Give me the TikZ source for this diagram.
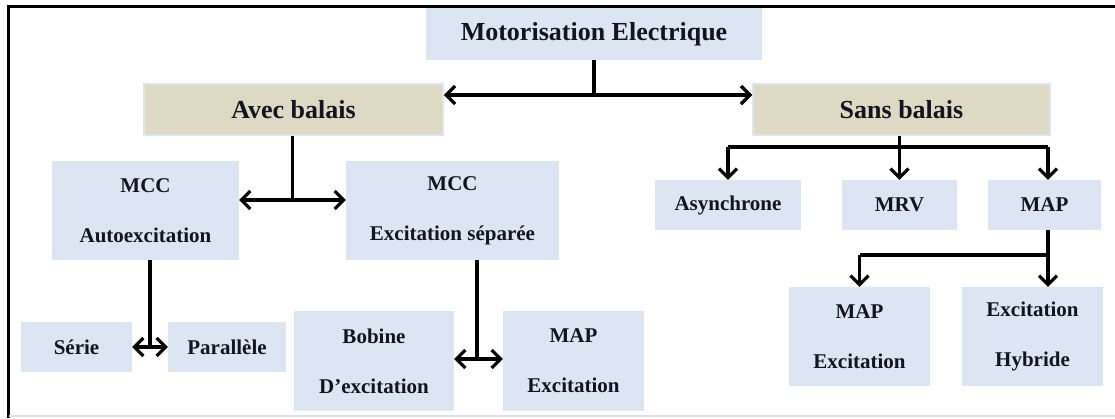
\documentclass[tikz,border=0pt]{standalone}
\usepackage{fontspec}
\setmainfont{Liberation Serif}
\usetikzlibrary{arrows.meta,calc}
\definecolor{boxblue}{HTML}{DCE6F2}
\definecolor{boxtan}{HTML}{DDD9C3}
\definecolor{inkdark}{HTML}{141420}
\begin{document}
\begin{tikzpicture}[x=1pt,y=-1pt,
  box/.style={fill=boxblue, inner sep=0pt, align=center, text=inkdark,
    font=\bfseries\fontsize{21}{50}\selectfont},
  cat/.style={fill=boxtan, draw=boxblue, line width=1.5pt, inner sep=0pt,
    text=inkdark, font=\bfseries\fontsize{26}{30}\selectfont},
  conn/.style={line width=3.2pt, draw=black},
  arr/.style={conn, -{Straight Barb[length=9pt,width=18pt]}},
  biarr/.style={conn, {Straight Barb[length=9pt,width=18pt]}-{Straight Barb[length=9pt,width=18pt]}},
]
\useasboundingbox (0,0) rectangle (1115,418);

% frame
\draw[line width=3pt] (1115,6) -- (8,6) -- (8,418);
\draw[black!12, line width=1.5pt] (9,416) -- (1115,416);

% root
\node[box, minimum width=336pt, minimum height=52pt,
  font=\bfseries\fontsize{26}{30}\selectfont] (root) at (594,34) {Motorisation Electrique};

% two families
\node[cat, minimum width=299pt, minimum height=51pt] (avec) at (293.5,109.5) {Avec balais};
\node[cat, minimum width=297pt, minimum height=51pt] (sans) at (901.5,109.5) {Sans balais};

% brushed machines
\node[box, minimum width=187pt, minimum height=99pt] (mcca) at (145.5,210.5) {MCC\\Autoexcitation};
\node[box, minimum width=213pt, minimum height=99pt] (mccs) at (452.5,210.5) {MCC\\Excitation séparée};
\node[box, minimum width=111pt, minimum height=50pt] (serie) at (76.5,347) {Série};
\node[box, minimum width=118pt, minimum height=50pt] (para) at (227,347) {Parallèle};
\node[box, minimum width=160pt, minimum height=100pt] (bob) at (374,361) {Bobine\\D’excitation};
\node[box, minimum width=141pt, minimum height=100pt] (mapl) at (573.5,361) {MAP\\Excitation};

% brushless machines
\node[box, minimum width=146pt, minimum height=50pt] (asy) at (728,205) {Asynchrone};
\node[box, minimum width=115pt, minimum height=50pt] (mrv) at (899.5,205) {MRV};
\node[box, minimum width=113pt, minimum height=50pt] (map) at (1044.5,205) {MAP};
\node[box, minimum width=141pt, minimum height=99pt] (mapr) at (859.5,336.5) {MAP\\Excitation};
\node[box, minimum width=141pt, minimum height=99pt] (hyb) at (1032.5,336.5) {Excitation\\Hybride};

% junction points
\coordinate (j0) at (594,95);
\coordinate (j1) at (292.5,200);
\coordinate (j2) at (150,347);
\coordinate (j3) at (477,359);
\coordinate (j4) at (899.5,147);
\coordinate (j5) at (1048,255);

% root -> families
\draw[conn] (root.south) -- (j0);
\draw[arr] (j0) -- (j0 -| avec.east);
\draw[arr] (j0) -- (j0 -| sans.west);

% avec balais -> MCC
\draw[conn] (j1 |- avec.south) -- (j1);
\draw[arr] (j1) -- (j1 -| mcca.east);
\draw[arr] (j1) -- (j1 -| mccs.west);

% autoexcitation -> serie / parallele
\draw[conn] (j2 |- mcca.south) -- (j2);
\draw[biarr] (j2 -| serie.east) -- (j2 -| para.west);

% excitation separee -> bobine / MAP
\draw[conn] (j3 |- mccs.south) -- (j3);
\draw[biarr] (j3 -| bob.east) -- (j3 -| mapl.west);

% sans balais -> asynchrone / MRV / MAP
\draw[conn] (j4 |- sans.south) -- (j4);
\draw[conn] (j4 -| asy.north) -- (j4 -| j5);
\draw[arr] (j4 -| asy.north) -- (asy.north);
\draw[arr] (j4) -- (j4 |- mrv.north);
\draw[arr] (j4 -| j5) -- (j5 |- map.north);

% MAP -> excitation variants
\draw[conn] (j5 |- map.south) -- (j5);
\draw[conn] (j5) -- (j5 -| mapr.north);
\draw[arr] (j5 -| mapr.north) -- (mapr.north);
\draw[arr] (j5) -- (j5 |- hyb.north);
\end{tikzpicture}
\end{document}
